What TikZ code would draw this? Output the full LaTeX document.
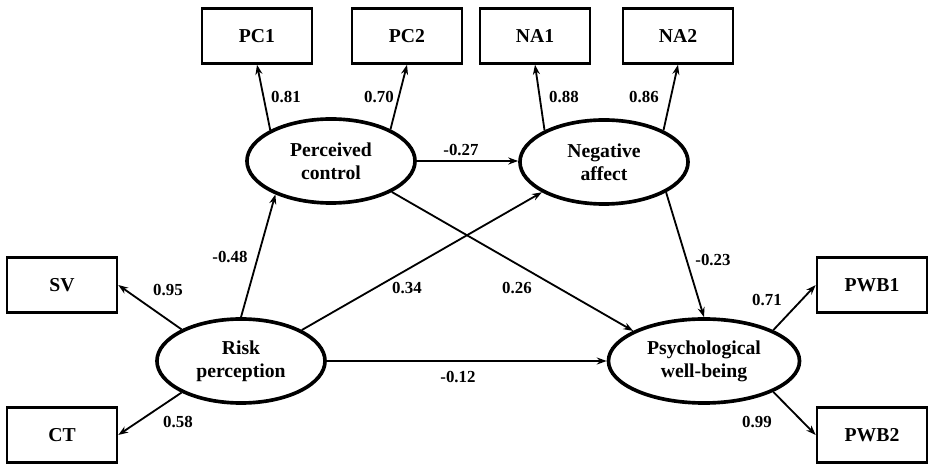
\documentclass[tikz,border=0pt]{standalone}
\usepackage{fontspec}
\setmainfont{Liberation Serif}
\usetikzlibrary{arrows.meta,shapes.geometric}

\begin{document}
\begin{tikzpicture}[x=0.025cm, y=-0.025cm,
    obs/.style={draw, line width=1.8pt, minimum width=2.75cm, minimum height=1.375cm,
      font=\fontsize{14}{16}\selectfont\bfseries},
    lat/.style={draw, ellipse, line width=2.6pt, minimum width=4.2cm, minimum height=2.1cm,
      inner sep=0pt, align=center, font=\fontsize{14}{16.5}\selectfont\bfseries},
    link/.style={line width=1.3pt, -{Stealth[length=7pt, width=5pt]}},
    coef/.style={font=\fontsize{12}{14}\selectfont\bfseries}]

        \useasboundingbox (0,0) rectangle (929,464) ;

        % indicators
        \node [obs] (pc1) at (257,36) {PC1} ;
        \node [obs] (pc2) at (407,36) {PC2} ;
        \node [obs] (na1) at (535,36) {NA1} ;
        \node [obs] (na2) at (678,36) {NA2} ;
        \node [obs] (sv) at (62,285) {SV} ;
        \node [obs] (ct) at (62,435) {CT} ;
        \node [obs] (pwb1) at (872,285) {PWB1} ;
        \node [obs] (pwb2) at (872,435) {PWB2} ;

        % latent variables
        \node [lat] (pc) at (331,161) {Perceived\\control} ;
        \node [lat] (na) at (604,162) {Negative\\affect} ;
        \node [lat] (rp) at (241,361) {Risk\\perception} ;
        \node [lat, minimum width=4.775cm] (pwb) at (704,361) {Psychological\\well-being} ;

        % loadings
        \draw [link] (pc.153) to (pc1.south) ;
        \draw [link] (pc.28) to (pc2.south) ;
        \draw [link] (na.152) to (na1.south) ;
        \draw [link] (na.28) to (na2.south) ;
        \draw [link] (rp.152) to (sv.east) ;
        \draw [link] (rp.208) to (ct.east) ;
        \draw [link] (pwb.24) to (pwb1.west) ;
        \draw [link] (pwb.-24) to (pwb2.west) ;

        % structural paths
        \draw [link] (pc.east) to (pc.east -| na.west) ;
        \draw [link] (rp.north) to (pc.211) ;
        \draw [link] (rp.27) to (na.206) ;
        \draw [link] (pc.333) to (pwb.157) ;
        \draw [link] (na.334) to (pwb.north) ;
        \draw [link] (rp.east) to (pwb.west) ;

        \node [coef] (c81) at (286,97) {0.81} ;
        \node [coef] (c70) at (379,97) {0.70} ;
        \node [coef] (c88) at (564,97) {0.88} ;
        \node [coef] (c86) at (644,97) {0.86} ;
        \node [coef] (c27) at (461,150) {-0.27} ;
        \node [coef] (c48) at (230,257) {-0.48} ;
        \node [coef] (c95) at (168,290) {0.95} ;
        \node [coef] (c58) at (178,422) {0.58} ;
        \node [coef] (c34) at (407,288) {0.34} ;
        \node [coef] (c26) at (517,288) {0.26} ;
        \node [coef] (c12) at (458,377) {-0.12} ;
        \node [coef] (c23) at (713,260) {-0.23} ;
        \node [coef] (c71) at (767,300) {0.71} ;
        \node [coef] (c99) at (757,422) {0.99} ;

\end{tikzpicture}
\end{document}
